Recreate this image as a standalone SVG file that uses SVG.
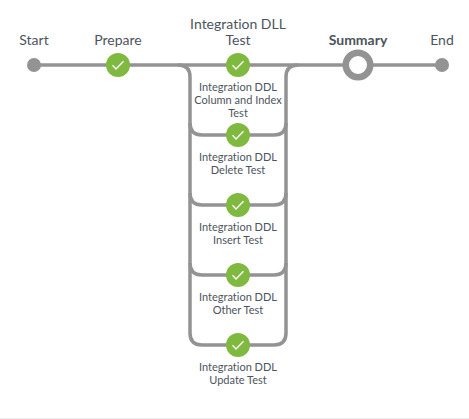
<svg xmlns="http://www.w3.org/2000/svg" width="469" height="419" viewBox="0 0 469 419">
<style>
.c{fill:none;stroke:#949393;stroke-width:3.5}
.l{font-family:Lato,"Liberation Sans",sans-serif;font-size:14px;fill:#4d545d;text-anchor:middle;font-variant-ligatures:none}
.s{font-family:Lato,"Liberation Sans",sans-serif;font-size:11px;fill:#4d545d;text-anchor:middle;font-variant-ligatures:none}
.ok{fill:#80b940}
.t{fill:none;stroke:#fff;stroke-width:1.3}
.d{fill:#949393}
</style>
<defs>
<g id="okn"><circle class="ok" r="12"/><path class="t" d="M-5.5 0.3L-2 4L5.5 -3.8"/></g>
</defs>
<rect width="469" height="419" fill="#fff"/>
<rect y="418" width="469" height="1" fill="#eee"/>
<g id="connectors">
<path class="c" d="M34 65H442"/>
<path class="c" d="M178 65C186 65 190 69 190 77V123C190 131 194 135 202 135H274C282 135 286 131 286 123V77C286 69 290 65 298 65"/>
<path class="c" d="M190 123V193C190 201 194 205 202 205H274C282 205 286 201 286 193V123"/>
<path class="c" d="M190 193V263C190 271 194 275 202 275H274C282 275 286 271 286 263V193"/>
<path class="c" d="M190 263V333C190 341 194 345 202 345H274C282 345 286 341 286 333V263"/>
</g>
<g id="start"><circle class="d" cx="34" cy="65" r="7"/><text class="l" x="34" y="45">Start</text></g>
<g id="prepare"><use href="#okn" x="118" y="65"/><text class="l" x="118" y="45">Prepare</text></g>
<g id="integration-dll"><use href="#okn" x="238" y="65"/><text class="l" x="238" y="29">Integration DLL</text><text class="l" x="238" y="45">Test</text></g>
<g id="summary"><circle cx="358" cy="65" r="12.25" fill="#fff" stroke="#949393" stroke-width="6.5"/><text class="l" x="358" y="45" font-weight="700">Summary</text></g>
<g id="end"><circle class="d" cx="442" cy="65" r="7"/><text class="l" x="442" y="45">End</text></g>
<g id="column-index"><text class="s" x="238" y="91">Integration DDL</text><text class="s" x="238" y="104">Column and Index</text><text class="s" x="238" y="117">Test</text><use href="#okn" x="238" y="135"/></g>
<g id="delete"><use href="#okn" x="238" y="205"/><text class="s" x="238" y="161">Integration DDL</text><text class="s" x="238" y="174">Delete Test</text></g>
<g id="insert"><text class="s" x="238" y="231">Integration DDL</text><text class="s" x="238" y="244">Insert Test</text><use href="#okn" x="238" y="275"/></g>
<g id="other"><text class="s" x="238" y="301">Integration DDL</text><text class="s" x="238" y="314">Other Test</text><use href="#okn" x="238" y="345"/></g>
<g id="update"><text class="s" x="238" y="371">Integration DDL</text><text class="s" x="238" y="384">Update Test</text></g>
</svg>
